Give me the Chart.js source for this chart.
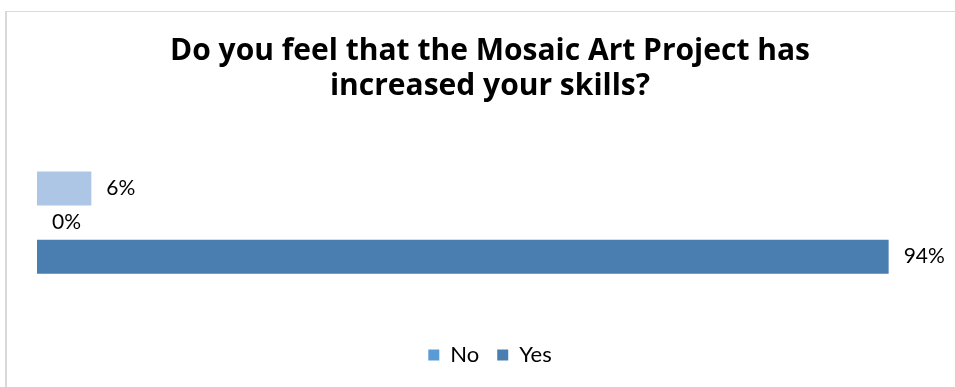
<!DOCTYPE html>
<html>
<head>
<meta charset="utf-8">
<script src="https://cdn.jsdelivr.net/npm/chart.js@4/dist/chart.umd.min.js"></script>
<style>
  html, body { margin: 0; padding: 0; background: #fff; overflow: hidden; }
  #wrap { position: relative; width: 955px; height: 387px; }
  #frame {
    position: absolute; left: 5px; top: 11px; right: -4px; bottom: -4px;
    border-top: 1px solid #d9d9d9; border-left: 2px solid #d9d9d9;
    pointer-events: none;
  }
</style>
</head>
<body>
<div id="wrap">
  <canvas id="myChart" width="955" height="387"></canvas>
  <div id="frame"></div>
</div>
<script>
const titleLines = ['Do you feel that the Mosaic Art Project has', 'increased your skills?'];
const categories = [''];
const seriesNames = ['', 'No', 'Yes'];
const extraValues = [6];
const noValues = [0];
const yesValues = [94];

const FONT = "'Lato', 'Open Sans', sans-serif";

// percentage text to the right of every bar, placed from the bar element itself
const valueLabels = {
  id: 'valueLabels',
  afterDatasetsDraw(chart) {
    const ctx = chart.ctx;
    ctx.save();
    ctx.font = '21px ' + FONT;
    ctx.fillStyle = '#000';
    ctx.textBaseline = 'middle';
    ctx.textAlign = 'left';
    chart.data.datasets.forEach((ds, i) => {
      chart.getDatasetMeta(i).data.forEach((bar, j) => {
        ctx.fillText(ds.data[j] + '%', bar.x + 15, bar.y);
      });
    });
    ctx.restore();
  }
};

const ctx = document.getElementById('myChart').getContext('2d');

const myChart = new Chart(ctx, {
  type: 'bar',
  data: {
    labels: categories,
    datasets: [
      { label: seriesNames[0], data: extraValues, backgroundColor: '#adc6e5', hideInLegend: true },
      { label: seriesNames[1], data: noValues, backgroundColor: '#5b9bd5' },
      { label: seriesNames[2], data: yesValues, backgroundColor: '#4a7db0' }
    ]
  },
  plugins: [valueLabels],
  options: {
    indexAxis: 'y',
    responsive: false,
    animation: false,
    layout: { padding: { left: 37, right: 12, top: 34, bottom: 11 } },
    datasets: {
      bar: { categoryPercentage: 0.495, barPercentage: 1, borderWidth: 0 }
    },
    scales: {
      x: {
        min: 0,
        max: 100,
        display: false,
        grid: { display: false }
      },
      y: {
        display: false,
        grid: { display: false }
      }
    },
    plugins: {
      legend: {
        position: 'bottom',
        labels: {
          boxWidth: 11,
          boxHeight: 11,
          padding: 18,
          color: '#000',
          font: { family: FONT, size: 22 },
          filter: (item, data) => !data.datasets[item.datasetIndex].hideInLegend
        }
      },
      title: {
        display: true,
        text: titleLines,
        color: '#000',
        font: { family: "'Open Sans', sans-serif", size: 30, weight: 'bold', lineHeight: 1.17 },
        padding: { top: 0, bottom: 15 }
      },
      tooltip: { enabled: false }
    }
  }
});
</script>
</body>
</html>
